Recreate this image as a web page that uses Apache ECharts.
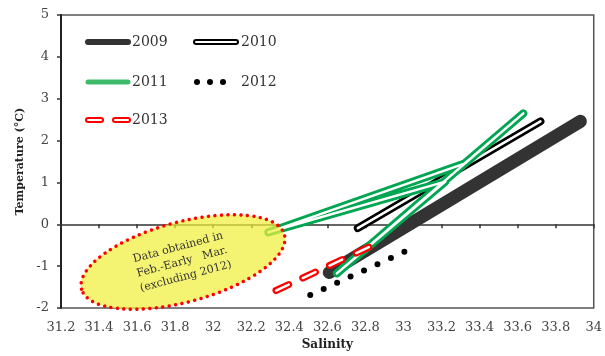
<!DOCTYPE html>
<html>
<head>
<meta charset="utf-8">
<script src="https://cdn.jsdelivr.net/npm/echarts@6/dist/echarts.min.js"></script>
<style>
html,body{margin:0;padding:0;background:#fff;}
#echart{width:605px;height:356px;}
</style>
</head>
<body>
<div id="echart"></div>
<script>
// salinity (x) / temperature (y)
var sal2009 = [32.61, 33.93];
var tmp2009 = [-1.15, 2.46];
var sal2010 = [32.76, 33.72];
var tmp2010 = [-0.09, 2.46];
var sal2011 = [32.29, 33.32, 33.63, 32.65, 33.22, 32.29];
var tmp2011 = [-0.19, 1.45, 2.65, -1.17, 1.02, -0.19];
var sal2012 = [32.51, 33.07];
var tmp2012 = [-1.69, -0.52];
var sal2013 = [32.33, 32.82];
var tmp2013 = [-1.58, -0.54];
var yearNames = ['2009', '2010', '2011', '2012', '2013'];
var salTicks = {min: 31.2, max: 34, step: 0.2};
var tmpTicks = {min: -2, max: 5, step: 1};

var SERIF = '"DejaVu Serif", "Liberation Serif", serif';

function pairs(xs, ys){
	var out = [];
	for (var i = 0; i < xs.length; i++) {
		out.push([xs[i], ys[i]]);
	}
	return out;
}

function lineSeries(name, xs, ys, color, width, dash, z){
	return {
		name: name,
		type: 'line',
		data: pairs(xs, ys),
		symbol: 'none',
		showSymbol: false,
		silent: true,
		animation: false,
		z: z,
		lineStyle: {color: color, width: width, type: dash || 'solid', cap: 'round', join: 'round'}
	};
}

function legendGraphics(){
	var g = [];
	var txt = function(x, y, s){
		g.push({type: 'text', x: x, y: y, z: 120,
			style: {text: s, font: '14px ' + SERIF, fill: '#333', textAlign: 'left', textVerticalAlign: 'middle'}});
	};
	var seg = function(x1, x2, y, color, w, dash){
		g.push({type: 'line', z: 120, shape: {x1: x1, y1: y, x2: x2, y2: y},
			style: {stroke: color, lineWidth: w, lineCap: 'round', lineDash: dash || null}});
	};
	// 2009
	seg(88, 128, 42, '#333', 6);
	txt(132, 42, yearNames[0]);
	// 2010
	seg(196, 236, 42, '#000', 6);
	seg(196, 236, 42, '#fff', 2);
	txt(241, 42, yearNames[1]);
	// 2011
	seg(88, 128, 82, '#3dbb6b', 5);
	txt(132, 82, yearNames[2]);
	// 2012
	for (var i = 0; i < 3; i++) {
		g.push({type: 'circle', z: 120, shape: {cx: 197 + i * 13, cy: 82, r: 3}, style: {fill: '#000'}});
	}
	txt(241, 82, yearNames[3]);
	// 2013
	seg(88, 101, 120, '#f00', 6);
	seg(88, 101, 120, '#fff', 2);
	seg(115, 128, 120, '#f00', 6);
	seg(115, 128, 120, '#fff', 2);
	txt(132, 120, yearNames[4]);
	return g;
}

function initReport(){
	var domain = document.getElementById('echart');
	var myChart = echarts.init(domain, null, {renderer: 'canvas'});

	var series = [];
	series.push(lineSeries(yearNames[0], sal2009, tmp2009, '#333333', 13, null, 2));
	series.push(lineSeries(yearNames[1], sal2010, tmp2010, '#000000', 8, null, 3));
	series.push(lineSeries(yearNames[1] + 'in', sal2010, tmp2010, '#ffffff', 2.5, null, 3));
	series.push(lineSeries(yearNames[2], sal2011, tmp2011, '#00a651', 8, null, 4));
	series.push(lineSeries(yearNames[2] + 'in', sal2011, tmp2011, '#ffffff', 2.5, null, 4));
	series.push(lineSeries(yearNames[3], sal2012, tmp2012, '#000000', 6, [0, 14.8], 5));
	series.push(lineSeries(yearNames[4], sal2013, tmp2013, '#ff0000', 7, [14, 15.5], 6));
	series.push(lineSeries(yearNames[4] + 'in', sal2013, tmp2013, '#ffffff', 2.5, [14, 15.5], 6));

	var graphics = legendGraphics();
	// yellow note ellipse, drawn over the lines
	graphics.push({
		type: 'ellipse', x: 183, y: 262, rotation: 15 * Math.PI / 180, z: 100,
		shape: {cx: 0, cy: 0, rx: 105, ry: 40},
		style: {fill: 'rgba(240,240,60,0.72)', stroke: '#ff0000', lineWidth: 3.5, lineDash: [0, 6.5], lineCap: 'round'}
	});
	graphics.push({
		type: 'text', x: 182, y: 262, rotation: 15 * Math.PI / 180, z: 101,
		style: {text: 'Data obtained in\nFeb.-Early   Mar.\n(excluding 2012)', font: '11px ' + SERIF,
			fill: '#333', textAlign: 'center', textVerticalAlign: 'middle', lineHeight: 15}
	});

	var option = {
		animation: false,
		backgroundColor: '#fff',
		grid: {left: 61, right: 11, top: 15, bottom: 43, show: true, borderColor: '#555', borderWidth: 1.5},
		xAxis: [{
			type: 'value', position: 'bottom',
			min: salTicks.min, max: salTicks.max, interval: salTicks.step,
			name: 'Salinity', nameLocation: 'middle', nameGap: 30,
			nameTextStyle: {fontFamily: SERIF, fontSize: 12, fontWeight: 'bold', color: '#222'},
			axisLine: {show: false, onZero: false},
			axisTick: {show: false},
			splitLine: {show: false},
			axisLabel: {fontFamily: SERIF, fontSize: 13, color: '#444', margin: 13}
		}, {
			type: 'value', position: 'top',
			min: salTicks.min, max: salTicks.max, interval: salTicks.step,
			axisLine: {show: true, onZero: true, lineStyle: {color: '#333', width: 1.5}},
			axisTick: {show: true, inside: true, length: 4, lineStyle: {color: '#333', width: 1.5}},
			splitLine: {show: false},
			axisLabel: {show: false}
		}],
		yAxis: {
			type: 'value',
			min: tmpTicks.min, max: tmpTicks.max, interval: tmpTicks.step,
			name: 'Temperature (°C)', nameLocation: 'middle', nameGap: 34,
			nameTextStyle: {fontFamily: SERIF, fontSize: 11, fontWeight: 'bold', color: '#222'},
			axisLine: {show: true, lineStyle: {color: '#222', width: 2}},
			axisTick: {show: true, length: 4, lineStyle: {color: '#333', width: 1.5}},
			splitLine: {show: false},
			axisLabel: {fontFamily: SERIF, fontSize: 13, color: '#444', margin: 12}
		},
		series: series,
		graphic: graphics
	};
	myChart.setOption(option);
}

initReport();
</script>
</body>
</html>
